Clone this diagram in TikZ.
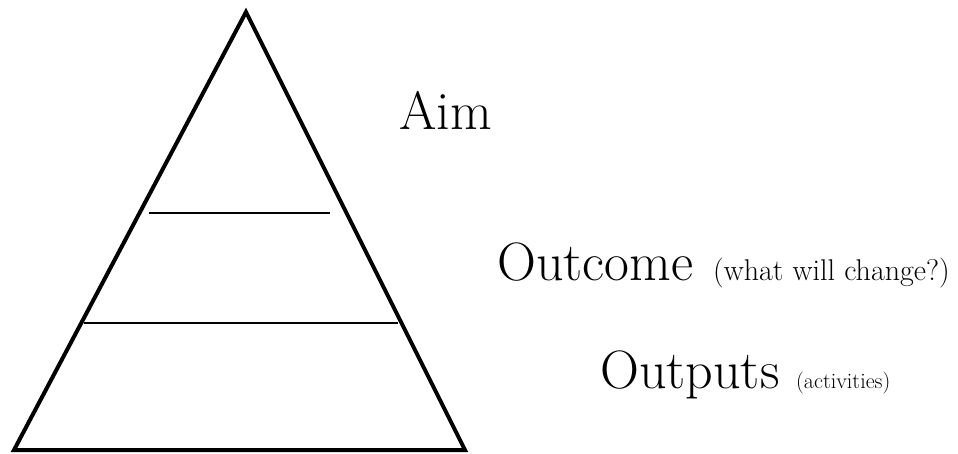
\documentclass[tikz,border=0pt]{standalone}
\usepackage{fontspec}
\begin{document}
\begin{tikzpicture}[x=1pt,y=-1pt,
  edge/.style={draw=black,line width=4pt,line join=miter},
  divider/.style={draw=black,line width=2.2pt},
  biglabel/.style={anchor=base west,inner sep=0pt,font=\fontsize{54}{58}\selectfont},
  smalllabel/.style={anchor=base west,inner sep=0pt}]
\useasboundingbox (0,0) rectangle (958,453);
\coordinate (apex) at (246,12);
\coordinate (bl) at (14,450);
\coordinate (br) at (465,450);
\draw[edge] (apex) -- (br) -- (bl) -- cycle;
\coordinate (u1) at (149,213);
\coordinate (u2) at (330,213);
\coordinate (l1) at (84,323);
\coordinate (l2) at (398,323);
\draw[divider] (u1) -- (u2);
\draw[divider] (l1) -- (l2);
\node[biglabel] (aim) at (399,129) {Aim};
\node[biglabel] (outcome) at (497,280) {Outcome};
\node[smalllabel,font=\fontsize{30}{33}\selectfont] (outcomenote) at (713,280) {(what will change?)};
\node[biglabel] (outputs) at (600,388) {Outputs};
\node[smalllabel,font=\fontsize{22}{25}\selectfont] (outputsnote) at (796,388) {(activities)};
\end{tikzpicture}
\end{document}
